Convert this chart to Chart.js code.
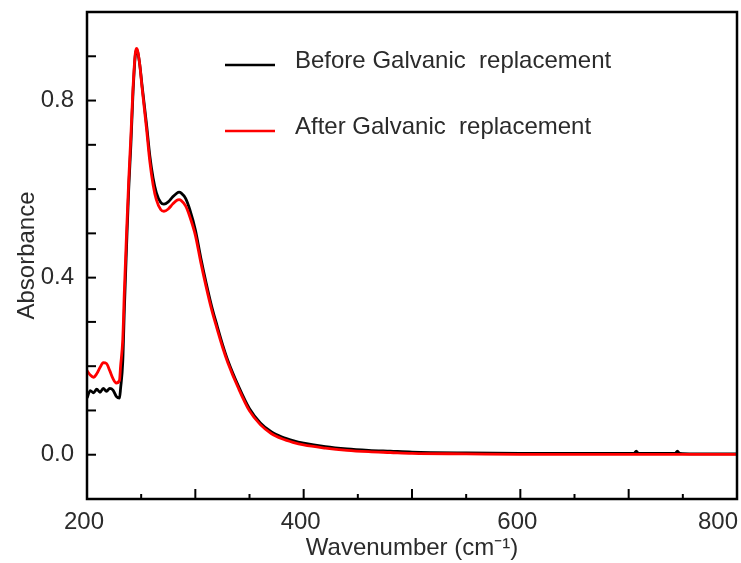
<!DOCTYPE html>
<html>
<head>
<meta charset="utf-8">
<script src="https://cdn.jsdelivr.net/npm/chart.js@4.4.1/dist/chart.umd.min.js"></script>
<style>
  body { margin: 0; background: #fff; }
  #wrap { width: 741px; height: 563px; }
</style>
</head>
<body>
<div id="wrap"><canvas id="uvChart"></canvas></div>
<script>
// wavenumber positions the curves were read at
const wavenumbers = [200, 203, 206, 209, 212, 215, 218, 221, 224, 227,
    230, 231, 233, 234.5, 236.5, 238.5, 240.5, 242.5, 243.5, 244.5,
    245.5, 246.5, 248.5, 251, 255, 258, 261, 264, 268, 271,
    275, 279, 283, 285, 287, 291, 295, 300, 305, 310,
    315, 320, 325, 330, 340, 350, 360, 370, 380, 390,
    400, 420, 440, 460, 480, 500, 550, 600, 650, 700,
    705, 707, 709, 720, 740, 743, 745, 747, 760, 780,
    800];

const beforeValues = [0.128, 0.145, 0.140, 0.148, 0.141, 0.150, 0.143, 0.150, 0.146, 0.132,
    0.128, 0.150, 0.210, 0.330, 0.470, 0.600, 0.700, 0.820, 0.865, 0.900,
    0.914, 0.912, 0.885, 0.830, 0.745, 0.675, 0.625, 0.592, 0.570, 0.566,
    0.571, 0.582, 0.591, 0.593, 0.591, 0.579, 0.553, 0.508, 0.445, 0.388,
    0.336, 0.292, 0.250, 0.213, 0.154, 0.104, 0.072, 0.052, 0.040, 0.032,
    0.026, 0.018, 0.013, 0.010, 0.008, 0.006, 0.004, 0.003, 0.003, 0.003,
    0.003, 0.008, 0.003, 0.003, 0.003, 0.003, 0.008, 0.003, 0.002, 0.002,
    0.002];

const afterValues = [0.190, 0.180, 0.175, 0.183, 0.197, 0.208, 0.206, 0.190, 0.172, 0.162,
    0.168, 0.200, 0.260, 0.370, 0.500, 0.620, 0.720, 0.830, 0.872, 0.905,
    0.918, 0.915, 0.885, 0.825, 0.735, 0.662, 0.610, 0.576, 0.554, 0.550,
    0.555, 0.566, 0.575, 0.576, 0.574, 0.562, 0.537, 0.496, 0.435, 0.379,
    0.328, 0.285, 0.244, 0.208, 0.149, 0.099, 0.068, 0.048, 0.036, 0.028,
    0.022, 0.015, 0.010, 0.007, 0.005, 0.003, 0.002, 0.001, 0.001, 0.001,
    0.001, 0.001, 0.001, 0.001, 0.001, 0.001, 0.001, 0.001, 0.001, 0.001,
    0.001];

const seriesLabels = ['Before Galvanic  replacement', 'After Galvanic  replacement'];
const xTickLabels = [200, 400, 600, 800];
const yTickLabels = [0.0, 0.4, 0.8];

const FONT = '"Liberation Sans", Arial, sans-serif';
const TEXT = '#2b2b2b';

function toPoints(values) {
    return wavenumbers.map((w, i) => ({ x: w, y: values[i] }));
}

// box frame, inward ticks and x labels (last label kept inside the frame)
const frameTicks = {
    id: 'frameTicks',
    afterDraw(chart) {
        const { ctx, chartArea: a } = chart;
        const x = chart.scales.x, y = chart.scales.y;
        ctx.save();
        ctx.strokeStyle = '#000';
        ctx.lineWidth = 2;
        y.ticks.forEach(t => {
            const py = y.getPixelForValue(t.value);
            if (py <= a.top + 2 || py >= a.bottom - 2) return;
            ctx.beginPath();
            ctx.moveTo(a.left, py);
            ctx.lineTo(a.left + 9, py);
            ctx.stroke();
        });
        x.ticks.forEach(t => {
            const px = x.getPixelForValue(t.value);
            if (px <= a.left + 2 || px >= a.right - 2) return;
            const len = Math.round(t.value) % 100 === 0 ? 10 : 5;
            ctx.beginPath();
            ctx.moveTo(px, a.bottom);
            ctx.lineTo(px, a.bottom - len);
            ctx.stroke();
        });
        ctx.lineWidth = 2.5;
        ctx.strokeRect(a.left, a.top, a.right - a.left, a.bottom - a.top);

        ctx.font = '24px ' + FONT;
        ctx.fillStyle = TEXT;
        ctx.textBaseline = 'alphabetic';
        x.ticks.forEach(t => {
            if (!xTickLabels.includes(Math.round(t.value))) return;
            const label = String(Math.round(t.value));
            const w = ctx.measureText(label).width;
            let lx = x.getPixelForValue(t.value) - w / 2 - 3;
            if (lx + w > a.right + 1) lx = a.right + 1 - w;
            ctx.fillText(label, lx, a.bottom + 30);
        });
        ctx.restore();
    }
};

// legend sits inside the plot area
const insideLegend = {
    id: 'insideLegend',
    afterDraw(chart) {
        const { ctx, chartArea: a } = chart;
        ctx.save();
        ctx.font = '24px ' + FONT;
        ctx.textBaseline = 'middle';
        chart.data.datasets.forEach((ds, i) => {
            const ly = a.top + 53 + i * 66;
            ctx.strokeStyle = ds.borderColor;
            ctx.lineWidth = 2.5;
            ctx.beginPath();
            ctx.moveTo(225, ly);
            ctx.lineTo(275, ly);
            ctx.stroke();
            ctx.fillStyle = TEXT;
            ctx.fillText(ds.label, 295, ly - 4);
        });
        ctx.restore();
    }
};

document.addEventListener('DOMContentLoaded', function() {
    const ctx = document.getElementById('uvChart').getContext('2d');

    new Chart(ctx, {
        type: 'line',
        data: {
            datasets: [{
                label: seriesLabels[0],
                data: toPoints(beforeValues),
                borderColor: '#000000',
                borderWidth: 2.8,
                order: 1
            }, {
                label: seriesLabels[1],
                data: toPoints(afterValues),
                borderColor: '#ff0000',
                borderWidth: 2.8,
                order: 0
            }]
        },
        options: {
            responsive: true,
            maintainAspectRatio: false,
            animation: false,
            layout: { padding: { top: 12, right: 4, left: 0, bottom: 0 } },
            elements: {
                point: { radius: 0 },
                line: { cubicInterpolationMode: 'monotone' }
            },
            plugins: {
                legend: { display: false },
                tooltip: { enabled: false }
            },
            scales: {
                x: {
                    type: 'linear',
                    min: 200,
                    max: 800,
                    grid: { display: false },
                    border: { display: false },
                    ticks: { stepSize: 50, display: false },
                    title: {
                        display: true,
                        text: 'Wavenumber (cm⁻¹)',
                        color: TEXT,
                        font: { family: FONT, size: 24 },
                        padding: { top: 0, bottom: 0 }
                    },
                    afterFit: s => { s.height = 64; s.paddingLeft = 0; s.paddingRight = 0; }
                },
                y: {
                    min: -0.1,
                    max: 1.0,
                    grid: { display: false, drawTicks: false },
                    border: { display: false },
                    ticks: {
                        stepSize: 0.1,
                        padding: 13,
                        color: TEXT,
                        font: { family: FONT, size: 24 },
                        callback: v => yTickLabels.some(l => Math.abs(l - v) < 1e-6) ? v.toFixed(1) : ''
                    },
                    title: {
                        display: true,
                        text: 'Absorbance',
                        color: TEXT,
                        font: { family: FONT, size: 24 },
                        padding: { top: 13, bottom: 0 }
                    },
                    afterFit: s => { s.width = 87; s.paddingTop = 0; s.paddingBottom = 0; }
                }
            }
        },
        plugins: [frameTicks, insideLegend]
    });
});
</script>
</body>
</html>
